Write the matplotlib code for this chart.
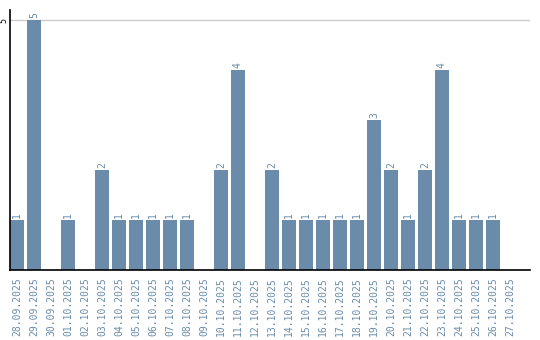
import matplotlib
matplotlib.use("Agg")
import matplotlib.pyplot as plt

dates = ["28.09.2025", "29.09.2025", "30.09.2025", "01.10.2025", "02.10.2025",
         "03.10.2025", "04.10.2025", "05.10.2025", "06.10.2025", "07.10.2025",
         "08.10.2025", "09.10.2025", "10.10.2025", "11.10.2025", "12.10.2025",
         "13.10.2025", "14.10.2025", "15.10.2025", "16.10.2025", "17.10.2025",
         "18.10.2025", "19.10.2025", "20.10.2025", "21.10.2025", "22.10.2025",
         "23.10.2025", "24.10.2025", "25.10.2025", "26.10.2025", "27.10.2025"]
counts = [1, 5, 0, 1, 0, 2, 1, 1, 1, 1, 1, 0, 2, 4, 0, 2, 1, 1, 1, 1, 1, 3, 2, 1, 2, 4, 1, 1, 1, 0]

bar_color = "#6a8caa"
font = "DejaVu Sans Mono"

fig = plt.figure(figsize=(5.4, 3.4), dpi=100)
ax = fig.add_axes([10/540, 70/340, 520/540, 260/340])

x = list(range(len(dates)))
ax.bar(x, counts, width=0.82, color=bar_color, zorder=2)
for xi, v in zip(x, counts):
    if v > 0:
        ax.text(xi, v + 0.05, str(v), rotation=90, ha="center", va="bottom",
                fontsize=7, color=bar_color, family=font)

ax.set_xlim(-0.41, 30.18)
ax.set_ylim(0, 5.2)
ax.set_yticks([5])
ax.set_yticklabels(["5"], rotation=90, fontsize=6, family=font, va="center")
ax.tick_params(axis="y", length=0, pad=1)
ax.yaxis.grid(True, color="#cccccc", linewidth=1, zorder=0)
ax.set_xticks(x)
ax.set_xticklabels(dates, rotation=90, fontsize=7, family=font, color=bar_color)
ax.tick_params(axis="x", length=0, pad=5)
for s in ["top", "right"]:
    ax.spines[s].set_visible(False)
ax.spines["left"].set_color("black")
ax.spines["bottom"].set_color("black")
ax.spines["left"].set_linewidth(1.2)
ax.spines["bottom"].set_linewidth(1.2)

fig.savefig("out.png", dpi=100)
